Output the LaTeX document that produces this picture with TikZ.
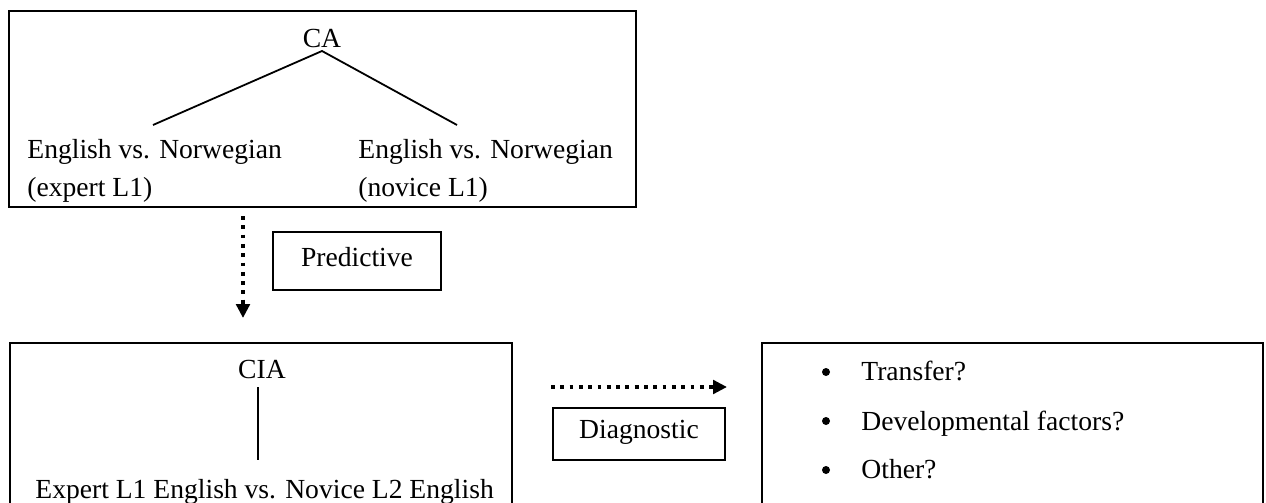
\documentclass[tikz,border=0pt]{standalone}
\usepackage{fontspec}
\setmainfont{Liberation Serif}
\usetikzlibrary{arrows.meta}
\tikzset{
  px/.style={x=0.5pt,y=-0.5pt},
  boxline/.style={draw=black,line width=1pt},
  treeline/.style={draw=black,line width=0.9pt},
  txt/.style={inner sep=0pt,font=\fontsize{13.8}{16}\selectfont},
  labelbox/.style={draw=black,line width=0.9pt,inner sep=0pt},
  dotarrow/.style={draw=black,line width=1.9pt,dash pattern=on 1.9pt off 2.75pt,
    -{Triangle[length=7pt,width=6.8pt]}},
}
\begin{document}
\begin{tikzpicture}[px]
\useasboundingbox (0,0) rectangle (1266,503);
\clip (0,0) rectangle (1266,503);
% top box
\draw[boxline] (9,11) rectangle (636,207);
\node[txt,anchor=base] (ca) at (322,47) {CA};
\coordinate (caB) at (322,51);
\node[txt,anchor=base west] (l1) at (27,158) {English vs. Norwegian};
\node[txt,anchor=base west] (l2) at (27,196) {(expert L1)};
\node[txt,anchor=base west] (r1) at (358,158) {English vs. Norwegian};
\node[txt,anchor=base west] (r2) at (358,196) {(novice L1)};
\coordinate (lT) at (153,125);
\coordinate (rT) at (457,125);
\draw[treeline] (lT) -- (caB) -- (rT);
% predictive
\node[labelbox,minimum width=84pt,minimum height=29pt] (pred) at (357,261) {};
\node[txt,anchor=base] (predt) at (357,266) {Predictive};
\coordinate (pa1) at (243,216);
\coordinate (pa2) at (243,318);
\draw[dotarrow] (pa1) -- (pa2);
% bottom left box
\draw[boxline] (10,520) -- (10,343) -- (512,343) -- (512,520);
\node[txt,anchor=base] (cia) at (262,378) {CIA};
\coordinate (ciaB) at (258,387);
\coordinate (expT) at (258,460);
\draw[treeline] (ciaB) -- (expT);
\node[txt,anchor=base west] (exp) at (35,498) {Expert L1 English vs. Novice L2 English};
% diagnostic
\coordinate (da1) at (551,387);
\coordinate (da2) at (727,387);
\draw[dotarrow] (da1) -- (da2);
\node[labelbox,minimum width=86pt,minimum height=26pt] (diag) at (639,434) {};
\node[txt,anchor=base] (diagt) at (639,438) {Diagnostic};
% right box
\draw[boxline] (762,520) -- (762,343) -- (1263,343) -- (1263,520);
\fill (826,372) circle (4);
\fill (826,421) circle (4);
\fill (826,470) circle (4);
\node[txt,anchor=base west] (b1) at (861,380) {Transfer?};
\node[txt,anchor=base west] (b2) at (861,430) {Developmental factors?};
\node[txt,anchor=base west] (b3) at (861,478) {Other?};
\end{tikzpicture}
\end{document}
